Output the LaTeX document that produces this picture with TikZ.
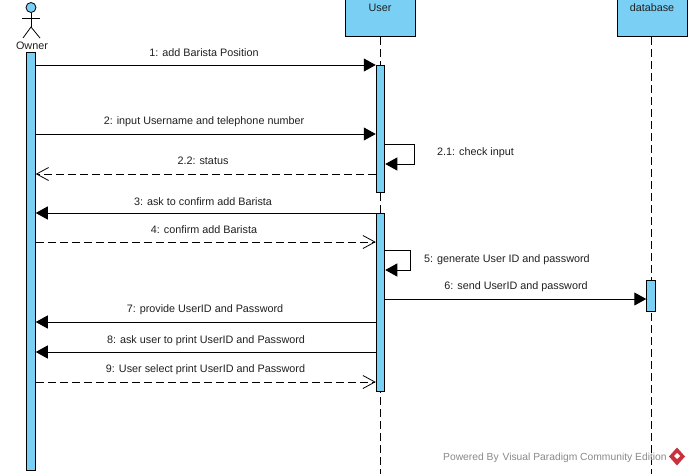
\documentclass[tikz,border=0pt]{standalone}
\usepackage{fontspec}
\setmainfont{Liberation Sans}
\usetikzlibrary{arrows.meta,calc}
\definecolor{barblue}{HTML}{7ACFF5}
\definecolor{txt}{HTML}{202020}
\definecolor{wm}{HTML}{8A8A8A}
\definecolor{logored}{HTML}{C8323C}
\tikzset{
  x=1pt,y=-1pt,
  bar/.style={draw=black,line width=1pt,fill=barblue,inner sep=0pt,minimum width=8.5pt,anchor=north},
  head/.style={draw=black,line width=1pt,fill=barblue,inner sep=0pt,minimum width=70pt,minimum height=37pt},
  life/.style={line width=1pt,dash pattern=on 8pt off 4pt},
  call/.style={line width=1pt,-{Triangle[length=12pt,width=13pt]}},
  ret/.style={line width=.8pt,dash pattern=on 8pt off 4pt,-{Straight Barb[length=12pt,width=13pt,line width=.8pt]}},
  lab/.style={font=\fontsize{10.8pt}{12pt}\selectfont,text=txt,inner sep=0pt,yshift=-0.8pt},
  actorline/.style={line width=.8pt}
}
\begin{document}
\begin{tikzpicture}
\useasboundingbox (0,0) rectangle (691,474);
\fill[white] (0,0) rectangle (691,474);
% lifelines
\coordinate (userTop) at (380,37);
\coordinate (userEnd) at (380,474);
\coordinate (dbTop) at (651,37);
\coordinate (dbEnd) at (651,474);
\draw[life] (userTop) -- (userEnd);
\draw[life] (dbTop) -- (dbEnd);
% heads
\node[head] (userHead) at (380,18) {};
\node[lab,anchor=north] (userLabel) at (380,3) {User};
\node[head] (dbHead) at (652,18) {};
\node[lab,anchor=north] (dbLabel) at (652,3) {database};
% activation bars
\node[bar,minimum height=418pt] (ownerBar) at (31,52) {};
\node[bar,minimum height=127pt] (userBarA) at (380.5,65) {};
\node[bar,minimum height=178pt] (userBarB) at (380.5,213) {};
\node[bar,minimum height=31pt] (dbBar) at (651,280) {};
% actor
\node[circle,draw=black,line width=.8pt,fill=barblue,minimum size=10pt,inner sep=0pt] (actorHead) at (31,7.5) {};
\coordinate (hip) at (31,27);
\coordinate (armL) at (22,18);
\coordinate (armR) at (40,18);
\coordinate (legL) at (23,38);
\coordinate (legR) at (40,38);
\draw[actorline] (actorHead) -- (hip);
\draw[actorline] (armL) -- (armR);
\draw[actorline] (legL) -- (hip) -- (legR);
\node[lab] (ownerLabel) at (32,45) {Owner};
% messages
\draw[call] (ownerBar.east |- 0,65) -- (userBarA.west |- 0,65);
\node[lab] (m1) at (204,52) {1: add Barista Position};
\draw[call] (ownerBar.east |- 0,134) -- (userBarA.west |- 0,134);
\node[lab] (m2) at (204,121) {2: input Username and telephone number};
\coordinate (s1a) at (414,144);
\coordinate (s1b) at (414,164);
\draw[call] (userBarA.east |- 0,144) -- (s1a) -- (s1b) -- (userBarA.east |- 0,164);
\node[lab,anchor=west] (m21) at (437,152) {2.1: check input};
\draw[ret] (userBarA.west |- 0,174) -- (ownerBar.east |- 0,174);
\node[lab] (m22) at (203,160) {2.2: status};
\draw[call] (userBarB.west |- 0,213) -- (ownerBar.east |- 0,213);
\node[lab] (m3) at (203,201) {3: ask to confirm add Barista};
\draw[ret] (ownerBar.east |- 0,242) -- (userBarB.west |- 0,242);
\node[lab] (m4) at (204,229) {4: confirm add Barista};
\coordinate (s2a) at (410,250);
\coordinate (s2b) at (410,270);
\draw[call] (userBarB.east |- 0,250) -- (s2a) -- (s2b) -- (userBarB.east |- 0,270);
\node[lab,anchor=west] (m5) at (424,259) {5: generate User ID and password};
\draw[call] (userBarB.east |- 0,299) -- (dbBar.west |- 0,299);
\node[lab] (m6) at (516,286) {6: send UserID and password};
\draw[call] (userBarB.west |- 0,322) -- (ownerBar.east |- 0,322);
\node[lab] (m7) at (205,309) {7: provide UserID and Password};
\draw[call] (userBarB.west |- 0,352) -- (ownerBar.east |- 0,352);
\node[lab] (m8) at (206,340) {8: ask user to print UserID and Password};
\draw[ret] (ownerBar.east |- 0,382) -- (userBarB.west |- 0,382);
\node[lab] (m9) at (205.5,369) {9: User select print UserID and Password};
% watermark
\node[lab,anchor=west,text=wm,font=\fontsize{10.3pt}{12pt}\selectfont] (wmark) at (443,457) {Powered By \hspace{1pt}Visual Paradigm Community Edition};
\fill[logored] (677,447.5) -- (685,456.5) -- (677,465.5) -- (669,456.5) -- cycle;
\fill[white] (677,453) -- (680,456) -- (677,459) -- (674,456) -- cycle;
\end{tikzpicture}
\end{document}
